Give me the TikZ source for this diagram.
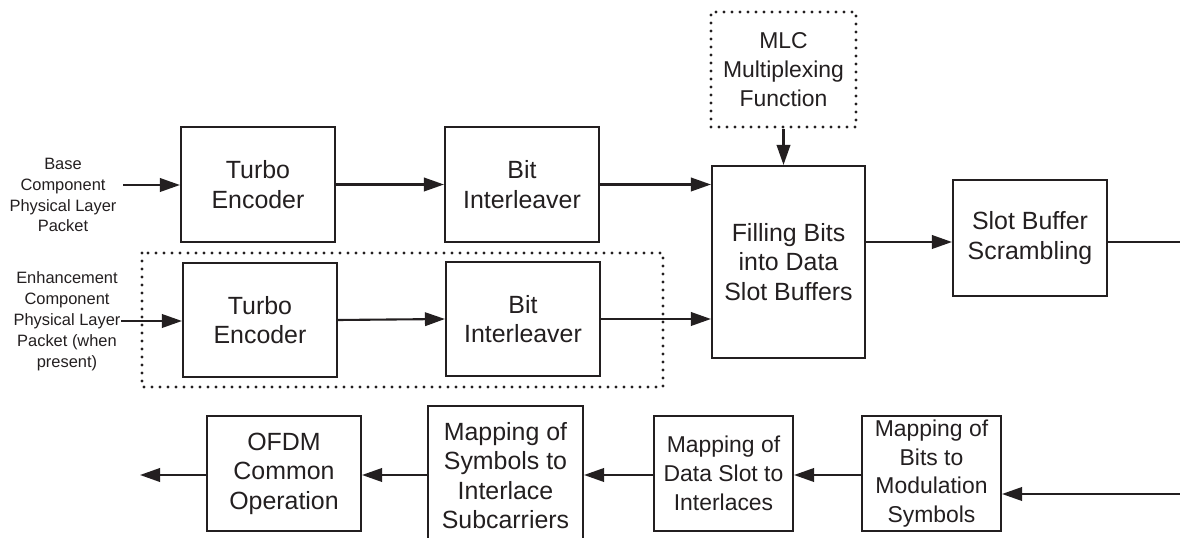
\documentclass[tikz,border=0pt]{standalone}
\usepackage{fontspec}
\setmainfont{Liberation Sans}
\usetikzlibrary{arrows.meta}
\definecolor{ink}{RGB}{35,31,32}
\newcommand\fbig{\fontsize{25}{29.5}\selectfont}
\newcommand\fmid{\fontsize{23}{28.8}\selectfont}
\newcommand\fsml{\fontsize{16.5}{21}\selectfont}
\begin{document}
\begin{tikzpicture}[x=1bp,y=-1bp,
  blk/.style={draw=ink, line width=2.1bp, inner sep=0pt, align=center, text=ink},
  dotbox/.style={draw=ink, line width=3.2bp, line cap=round, dash pattern=on 0bp off 8bp},
  lbl/.style={inner sep=0pt, align=center, text=ink, font=\fsml},
  arr/.style={draw=ink, line width=2.1bp, -{Triangle[length=20bp,width=13.5bp]}},
  ln/.style={draw=ink, line width=2.1bp}]
\clip (0,0) rectangle (1180,538);
\fill[white] (0,0) rectangle (1180,538);
% top row
\node[blk, font=\fbig, minimum width=154bp, minimum height=115bp] (te1) at (258,184.5) {Turbo\\Encoder};
\node[blk, font=\fbig, minimum width=154bp, minimum height=115bp] (bi1) at (522,184.5) {Bit\\Interleaver};
\node[blk, font=\fbig, minimum width=154bp, minimum height=114bp] (te2) at (260,320) {Turbo\\Encoder};
\node[blk, font=\fbig, minimum width=154bp, minimum height=114bp] (bi2) at (523,319) {Bit\\Interleaver};
\node[blk, font=\fbig, minimum width=153bp, minimum height=192bp] (fill) at (788.5,262) {Filling Bits\\into Data\\Slot Buffers};
\node[blk, dotbox, font=\fmid, minimum width=145bp, minimum height=115bp] (mlc) at (783.5,69.5) {MLC\\Multiplexing\\Function};
\node[blk, font=\fbig, minimum width=154bp, minimum height=116bp] (sbs) at (1030,238) {Slot Buffer\\Scrambling};
\draw[dotbox] (142,253) rectangle (663,387);
% labels
\node[lbl] (base) at (63,195) {Base\\Component\\Physical Layer\\Packet};
\node[lbl] (enh) at (67,321) {Enhancement\\Component\\Physical Layer\\Packet (when\\present)};
% bottom row
\node[blk, font=\fbig, minimum width=154bp, minimum height=115bp] (ofdm) at (284,473.5) {OFDM\\Common\\Operation};
\node[blk, font=\fbig, minimum width=155bp, minimum height=139bp] (sym) at (505.5,475.5) {Mapping of\\Symbols to\\Interlace\\Subcarriers};
\node[blk, font=\fmid, minimum width=139bp, minimum height=115bp] (data) at (723.5,473.5) {Mapping of\\Data Slot to\\Interlaces};
\node[blk, font=\fmid, minimum width=139bp, minimum height=115bp] (bits) at (931.5,473.5) {Mapping of\\Bits to\\Modulation\\Symbols};
% connectors top
\coordinate (bin) at (123,185);
\coordinate (ein) at (121,321);
\coordinate (r1) at (0,242);
\coordinate (sout) at (1180,242);
\draw[arr] (bin) -- (bin -| te1.west);
\draw[arr] (te1.east) -- (bi1.west);
\draw[arr] (bi1.east) -- (bi1.east -| fill.west);
\draw[arr] (ein) -- (ein -| te2.west);
\draw[arr] (te2.east) -- (bi2.west);
\draw[arr] (bi2.east) -- (bi2.east -| fill.west);
\draw[arr] (mlc.south) -- (mlc.south |- fill.north);
\draw[arr] (fill.east |- r1) -- (sbs.west |- r1);
\draw[ln] (sbs.east |- r1) -- (sout);
% connectors bottom
\coordinate (bin2) at (1180,494);
\coordinate (r2) at (0,475);
\coordinate (oout) at (140,475);
\draw[arr] (bin2) -- (bin2 -| bits.east);
\draw[arr] (bits.west |- r2) -- (data.east |- r2);
\draw[arr] (data.west |- r2) -- (sym.east |- r2);
\draw[arr] (sym.west |- r2) -- (ofdm.east |- r2);
\draw[arr] (ofdm.west |- r2) -- (oout);
\end{tikzpicture}
\end{document}
